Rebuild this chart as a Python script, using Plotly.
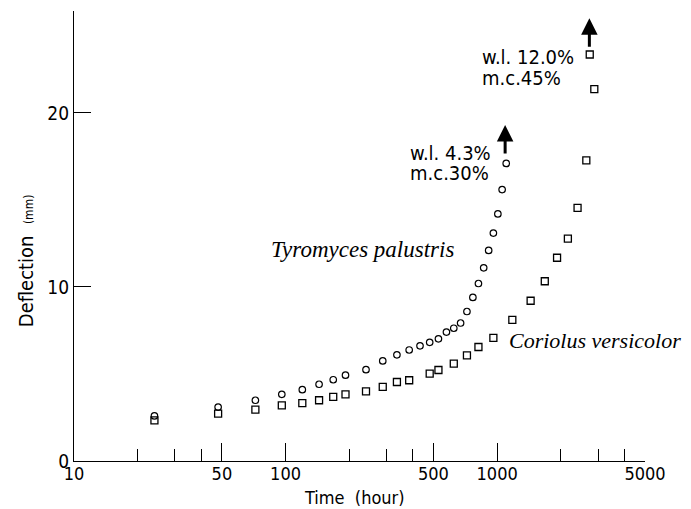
import plotly.graph_objects as go
import math

# ---- data ----
tyro_time = [24, 48, 72, 96, 120, 144, 168, 192, 240, 288, 336, 384, 432, 480, 528,
             576, 624, 672, 720, 768, 816, 864, 912, 960, 1008, 1056, 1104]
tyro_defl = [2.59, 3.10, 3.49, 3.83, 4.10, 4.41, 4.67, 4.93, 5.25, 5.75, 6.10, 6.38, 6.62, 6.82, 7.02,
             7.41, 7.63, 7.93, 8.59, 9.40, 10.2, 11.1, 12.1, 13.1, 14.2, 15.6, 17.1]

cori_time = [24, 48, 72, 96, 120, 144, 168, 192, 240, 288, 336, 384, 480, 528, 624, 720, 816, 960,
             1180, 1440, 1680, 1920, 2160, 2400, 2640, 2880, 2740]
cori_defl = [2.34, 2.72, 2.95, 3.20, 3.33, 3.49, 3.68, 3.83, 4.00, 4.26, 4.54, 4.64, 5.02, 5.23, 5.60, 6.07, 6.55, 7.07,
             8.11, 9.21, 10.33, 11.68, 12.78, 14.55, 17.28, 21.37, 23.36]

major_ticks = [10, 50, 100, 500, 1000, 5000]
minor_ticks = [20, 30, 40, 200, 300, 400, 2000, 3000, 4000]
y_ticks = [0, 10, 20]

# arrows (time, base deflection, tip deflection)
arrow_time = [1091, 2729]
arrow_base = [17.59, 23.72]
arrow_tip = [19.31, 25.44]

# labels
wl_text = ["w.l. 4.3%", "w.l. 12.0%"]
mc_text = ["m.c.30%", "m.c.45%"]
label_time = [385, 840]
wl_defl = [17.70, 23.22]
mc_defl = [16.55, 21.99]

species = ["Tyromyces palustris", "Coriolus versicolor"]
species_time = [231.7, 2890]
species_defl = [12.17, 6.91]
species_size = [23, 22]

x_title = "Time  (hour)"
y_title = "Deflection  <span style='font-size:12px'>(mm)</span>"

SANS = "DejaVu Sans Condensed, Liberation Sans, Arial, sans-serif"
SERIF = "Liberation Serif, Times New Roman, serif"

fig = go.Figure()
fig.add_trace(go.Scatter(x=tyro_time, y=tyro_defl, mode="markers",
                         marker=dict(symbol="circle-open", size=6.5, color="black",
                                     line=dict(width=1.2, color="black")),
                         showlegend=False, cliponaxis=False))
fig.add_trace(go.Scatter(x=cori_time, y=cori_defl, mode="markers",
                         marker=dict(symbol="square-open", size=7, color="black",
                                     line=dict(width=1.3, color="black")),
                         showlegend=False, cliponaxis=False))

ann = []
for t, b, tip in zip(arrow_time, arrow_base, arrow_tip):
    ann.append(dict(x=math.log10(t), y=tip, ax=math.log10(t), ay=b, xref="x", yref="y",
                    axref="x", ayref="y", text="", showarrow=True, arrowhead=2,
                    arrowsize=1.1, arrowwidth=3, arrowcolor="black", standoff=0, startstandoff=0))
for t, wy, my, wt, mt in zip(label_time, wl_defl, mc_defl, wl_text, mc_text):
    ann.append(dict(x=math.log10(t), y=wy, xref="x", yref="y", text=wt, showarrow=False,
                    height=18, borderpad=0,
                    xanchor="left", yanchor="middle", font=dict(family=SANS, size=20, color="black")))
    ann.append(dict(x=math.log10(t), y=my, xref="x", yref="y", text=mt, showarrow=False,
                    height=18, borderpad=0,
                    xanchor="left", yanchor="middle", font=dict(family=SANS, size=20, color="black")))
for s, t, d, fs in zip(species, species_time, species_defl, species_size):
    ann.append(dict(x=math.log10(t), y=d, xref="x", yref="y", text="<i>" + s + "</i>",
                    showarrow=False, xanchor="center", yanchor="middle",
                    font=dict(family=SERIF, size=fs, color="black")))
ann.append(dict(xref="paper", yref="paper", x=-0.085, y=0.445, text=y_title, textangle=-90,
                showarrow=False, xanchor="center", yanchor="middle",
                font=dict(family=SANS, size=20, color="black")))
ann.append(dict(xref="paper", yref="paper", x=0.492, y=-0.08, text=x_title,
                showarrow=False, xanchor="center", yanchor="middle",
                font=dict(family=SANS, size=18, color="black")))

# the page body adds an 8px margin, so the figure is sized to fit the window
fig.update_layout(
    template="none",
    width=683, height=501,
    margin=dict(l=66, r=46, t=3, b=48, autoexpand=False),
    paper_bgcolor="white", plot_bgcolor="white",
    annotations=ann,
    xaxis=dict(type="log", range=[1, math.log10(5000)], showgrid=False, zeroline=False,
               automargin=False,
               showline=True, linecolor="black", linewidth=1.3,
               tickmode="array", tickvals=major_ticks, ticktext=[str(v) for v in major_ticks],
               ticks="inside", ticklen=18, tickwidth=1.3, tickcolor="black",
               ticklabelstandoff=-4,
               tickfont=dict(family=SANS, size=18, color="black"),
               minor=dict(tickmode="array", tickvals=minor_ticks, ticks="inside",
                          ticklen=12, tickwidth=1.2, tickcolor="black", showgrid=False)),
    yaxis=dict(range=[0, 25.86], showgrid=False, zeroline=False,
               automargin=False,
               showline=True, linecolor="black", linewidth=1.3,
               tickmode="array", tickvals=y_ticks, ticktext=[str(v) for v in y_ticks],
               ticks="inside", ticklen=17, tickwidth=1.3, tickcolor="black",
               tickfont=dict(family=SANS, size=19, color="black")),
)

fig.write_html("out.html")
